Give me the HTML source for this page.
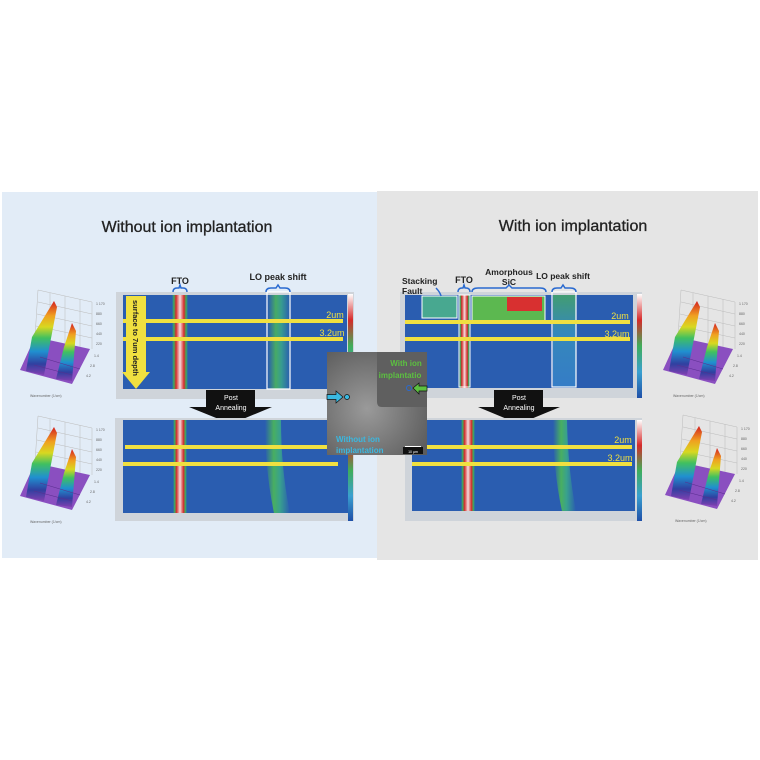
<!DOCTYPE html>
<html><head><meta charset="utf-8"><style>
html,body{margin:0;padding:0;background:#fff;}
svg{display:block;font-family:"Liberation Sans",sans-serif;}
</style></head><body>
<svg width="760" height="760" viewBox="0 0 760 760" xmlns="http://www.w3.org/2000/svg">
<defs>
<linearGradient id="fto" x1="0" x2="1" y1="0" y2="0">
<stop offset="0" stop-color="#2a5db0"/><stop offset="0.12" stop-color="#3fae5a"/><stop offset="0.25" stop-color="#d62a2a"/><stop offset="0.5" stop-color="#f4dede"/><stop offset="0.75" stop-color="#d62a2a"/><stop offset="0.88" stop-color="#3fae5a"/><stop offset="1" stop-color="#2a5db0"/>
</linearGradient>
<linearGradient id="lo" x1="0" x2="1" y1="0" y2="0">
<stop offset="0" stop-color="#2a5db0"/><stop offset="0.35" stop-color="#4cb858"/><stop offset="0.6" stop-color="#3aa88a"/><stop offset="1" stop-color="#2a5db0"/>
</linearGradient>
<linearGradient id="loTop" x1="0" x2="0" y1="0" y2="1">
<stop offset="0" stop-color="#4cb858"/><stop offset="0.4" stop-color="#3a9ac0"/><stop offset="1" stop-color="#3a8ad0"/>
</linearGradient>
<linearGradient id="cbar" x1="0" x2="0" y1="0" y2="1">
<stop offset="0" stop-color="#ffffff"/><stop offset="0.25" stop-color="#d62a2a"/><stop offset="0.5" stop-color="#3fae5a"/><stop offset="0.75" stop-color="#3aa0d0"/><stop offset="1" stop-color="#1f4fa8"/>
</linearGradient>
<linearGradient id="rain" x1="0" x2="0" y1="0" y2="1">
<stop offset="0" stop-color="#d32020"/><stop offset="0.2" stop-color="#f0a020"/><stop offset="0.35" stop-color="#d8d820"/><stop offset="0.5" stop-color="#40c060"/><stop offset="0.68" stop-color="#2090d0"/><stop offset="0.85" stop-color="#3040a0"/><stop offset="1" stop-color="#8040b0"/>
</linearGradient>
<radialGradient id="sem" cx="0.4" cy="0.55" r="0.7">
<stop offset="0" stop-color="#9a9a9a"/><stop offset="1" stop-color="#5c5c5c"/>
</radialGradient>
<g id="plot3d">
<g stroke="#bbb" stroke-width="0.5" fill="none">
<path d="M28,3 L82,15 L82,62 M28,3 L25,50 M40,6 L40,55 M55,9 L55,58 M70,12 L70,60 M28,15 L82,27 M27,27 L82,39 M26,39 L82,51"/>
</g>
<polygon points="10,83 25,50 80,62 62,97" fill="#8a4fc0"/>
<polygon points="16,84 22,50 44,14 47,20 34,88" fill="url(#rain)"/>
<polygon points="46,92 54,60 62,36 66,44 62,94" fill="url(#rain)"/>
<path d="M30,70 L70,82 M24,78 L62,88" stroke="#5a2f90" stroke-width="0.6"/>
<g font-size="3.5" fill="#666"><text x="86" y="18">1 170</text><text x="86" y="28">880</text><text x="86" y="38">660</text><text x="86" y="48">440</text><text x="86" y="58">220</text><text x="84" y="70">1.4</text><text x="80" y="80">2.8</text><text x="76" y="90">4.2</text><text x="20" y="110">Wavenumber (1/cm)</text></g>
</g>
</defs>

<rect x="2" y="192" width="375" height="366" fill="#e2ecf7"/>
<rect x="377" y="191" width="381" height="369" fill="#e5e5e5"/>

<text x="187" y="232" font-size="16" text-anchor="middle" fill="#222" stroke="#222" stroke-width="0.3">Without ion implantation</text>
<text x="573" y="231" font-size="16" text-anchor="middle" fill="#222" stroke="#222" stroke-width="0.3">With ion implantation</text>

<!-- LEFT TOP MAP -->
<rect x="116" y="292" width="238" height="107" fill="#cfd4da"/>
<rect x="123" y="295" width="224" height="94" fill="#2a5db0"/>
<rect x="172" y="295" width="16" height="94" fill="url(#fto)"/>
<rect x="268" y="295" width="22" height="94" fill="url(#lo)" opacity="0.85"/>
<rect x="267" y="292" width="23" height="97" fill="none" stroke="#fff" stroke-width="1.2"/>
<rect x="348" y="294" width="5" height="104" fill="url(#cbar)"/>
<rect x="123" y="319" width="220" height="4" fill="#f0e040"/>
<rect x="123" y="337" width="220" height="4" fill="#f0e040"/>
<text x="335" y="318" font-size="9" fill="#f0e040" text-anchor="middle">2um</text>
<text x="332" y="336" font-size="9" fill="#f0e040" text-anchor="middle">3.2um</text>
<polygon points="126,296 146,296 146,372 150,372 136,389 122,372 126,372" fill="#f0e040"/>
<text transform="translate(133,300) rotate(90)" font-size="7.5" font-weight="bold" fill="#222" textLength="76" lengthAdjust="spacingAndGlyphs">surface to 7um depth</text>
<text x="180" y="284" font-size="9" font-weight="bold" text-anchor="middle" fill="#222">FTO</text>
<path d="M173,292 Q173,288 177,288 L179,288 L180,285 L181,288 L183,288 Q187,288 187,292" fill="none" stroke="#2a6ad0" stroke-width="1.5"/>
<text x="278" y="280" font-size="9" font-weight="bold" text-anchor="middle" fill="#222">LO peak shift</text>
<path d="M266,292 Q266,288 271,288 L276,288 L278,285 L280,288 L285,288 Q290,288 290,292" fill="none" stroke="#2a6ad0" stroke-width="1.5"/>

<rect x="206" y="390" width="49" height="17" fill="#111"/>
<polygon points="189,407 272,407 231,424" fill="#111"/>
<text x="231" y="400" font-size="7" fill="#fff" text-anchor="middle">Post</text>
<text x="231" y="410" font-size="7" fill="#fff" text-anchor="middle">Annealing</text>

<!-- LEFT BOTTOM MAP -->
<rect x="115" y="418" width="239" height="103" fill="#cfd4da"/>
<rect x="123" y="420" width="225" height="93" fill="#2a5db0"/>
<rect x="173" y="420" width="14" height="93" fill="url(#fto)"/>
<path d="M265,420 L281,420 Q281,470 290,513 L274,513 Q265,470 265,420Z" fill="url(#lo)" opacity="0.9"/>
<rect x="348" y="420" width="5" height="101" fill="url(#cbar)"/>
<rect x="125" y="445" width="210" height="4" fill="#f0e040"/>
<rect x="123" y="462" width="215" height="4" fill="#f0e040"/>

<use href="#plot3d" x="10" y="287"/>
<use href="#plot3d" x="10" y="413"/>
<use href="#plot3d" x="653" y="287"/>
<use href="#plot3d" x="655" y="412"/>

<!-- RIGHT TOP MAP -->
<rect x="400" y="292" width="242" height="106" fill="#cfd4da"/>
<rect x="405" y="295" width="228" height="93" fill="#2a5db0"/>
<rect x="422" y="296" width="35" height="22" fill="#48a890"/>
<rect x="422" y="296" width="35" height="22" fill="none" stroke="#fff" stroke-width="1"/>
<rect x="472" y="296" width="73" height="25" fill="#5cb850"/>
<rect x="507" y="297" width="35" height="14" fill="#d83030"/>
<rect x="459" y="295" width="11" height="93" fill="url(#fto)"/>
<rect x="459" y="295" width="11" height="92" fill="none" stroke="#fff" stroke-width="1"/>
<rect x="472" y="296" width="73" height="25" fill="none" stroke="#fff" stroke-width="1"/>
<rect x="553" y="295" width="23" height="92" fill="url(#loTop)" opacity="0.7"/>
<rect x="552" y="292" width="24" height="95" fill="none" stroke="#fff" stroke-width="1.2"/>
<rect x="637" y="294" width="5" height="104" fill="url(#cbar)"/>
<rect x="405" y="320" width="225" height="4" fill="#f0e040"/>
<rect x="405" y="337" width="225" height="4" fill="#f0e040"/>
<text x="620" y="319" font-size="9" fill="#f0e040" text-anchor="middle">2um</text>
<text x="617" y="337" font-size="9" fill="#f0e040" text-anchor="middle">3.2um</text>
<text x="402" y="284" font-size="8.5" font-weight="bold" fill="#222">Stacking</text>
<text x="402" y="294" font-size="8.5" font-weight="bold" fill="#222">Fault</text>
<path d="M436,288 Q440,292 441,296" stroke="#2a6ad0" stroke-width="1.5" fill="none"/>
<text x="464" y="283" font-size="9" font-weight="bold" text-anchor="middle" fill="#222">FTO</text>
<path d="M458,292 Q458,288 462,288 L463,288 L464,285 L465,288 L466,288 Q470,288 470,292" fill="none" stroke="#2a6ad0" stroke-width="1.5"/>
<text x="509" y="275" font-size="8.5" font-weight="bold" text-anchor="middle" fill="#222">Amorphous</text>
<text x="509" y="285" font-size="8.5" font-weight="bold" text-anchor="middle" fill="#222">SiC</text>
<path d="M472,292 Q472,288 478,288 L506,288 L509,285 L512,288 L540,288 Q546,288 546,292" fill="none" stroke="#2a6ad0" stroke-width="1.5"/>
<text x="563" y="279" font-size="8.5" font-weight="bold" text-anchor="middle" fill="#222">LO peak shift</text>
<path d="M552,292 Q552,288 557,288 L561,288 L563,285 L565,288 L570,288 Q576,288 576,292" fill="none" stroke="#2a6ad0" stroke-width="1.5"/>

<rect x="494" y="390" width="49" height="17" fill="#111"/>
<polygon points="478,407 560,407 519,424" fill="#111"/>
<text x="519" y="400" font-size="7" fill="#fff" text-anchor="middle">Post</text>
<text x="519" y="410" font-size="7" fill="#fff" text-anchor="middle">Annealing</text>

<!-- RIGHT BOTTOM MAP -->
<rect x="405" y="418" width="237" height="103" fill="#cfd4da"/>
<rect x="412" y="420" width="223" height="91" fill="#2a5db0"/>
<rect x="461" y="420" width="14" height="91" fill="url(#fto)"/>
<path d="M553,420 L567,420 Q568,470 576,511 L562,511 Q553,470 553,420Z" fill="url(#lo)" opacity="0.9"/>
<rect x="637" y="420" width="5" height="101" fill="url(#cbar)"/>
<rect x="427" y="445" width="205" height="4" fill="#f0e040"/>
<rect x="412" y="462" width="220" height="4" fill="#f0e040"/>
<text x="623" y="443" font-size="9" fill="#f0e040" text-anchor="middle">2um</text>
<text x="620" y="461" font-size="9" fill="#f0e040" text-anchor="middle">3.2um</text>

<!-- SEM image -->
<rect x="327" y="352" width="100" height="103" fill="url(#sem)"/>
<path d="M377,352 L427,352 L427,407 L382,407 Q377,407 377,402Z" fill="#5f5f5f"/>
<text x="406" y="366" font-size="8" font-weight="bold" fill="#5cc040" text-anchor="middle">With ion</text>
<text x="400" y="378" font-size="8" font-weight="bold" fill="#5cc040" text-anchor="middle">implantatio</text>
<circle cx="409" cy="388" r="2.5" fill="none" stroke="#2a6ad0" stroke-width="1"/>
<polygon points="413,388 419,383 419,386 427,386 427,391 419,391 419,394" fill="#5cc040" stroke="#111" stroke-width="0.7"/>
<polygon points="327,394.5 336,394.5 336,391 343,397 336,403 336,399.5 327,399.5" fill="#3ab8e0" stroke="#111" stroke-width="0.7"/>
<circle cx="347" cy="397" r="2.5" fill="#3ab8e0" stroke="#111" stroke-width="0.7"/>
<text x="336" y="442" font-size="8" font-weight="bold" fill="#3ab8e0">Without ion</text>
<text x="336" y="453" font-size="8" font-weight="bold" fill="#3ab8e0">implantation</text>
<rect x="403" y="447" width="20" height="7" fill="#111"/>
<rect x="405" y="446" width="16" height="1" fill="#fff"/>
<text x="413" y="453" font-size="3.5" fill="#fff" text-anchor="middle">10 µm</text>
</svg>
</body></html>
